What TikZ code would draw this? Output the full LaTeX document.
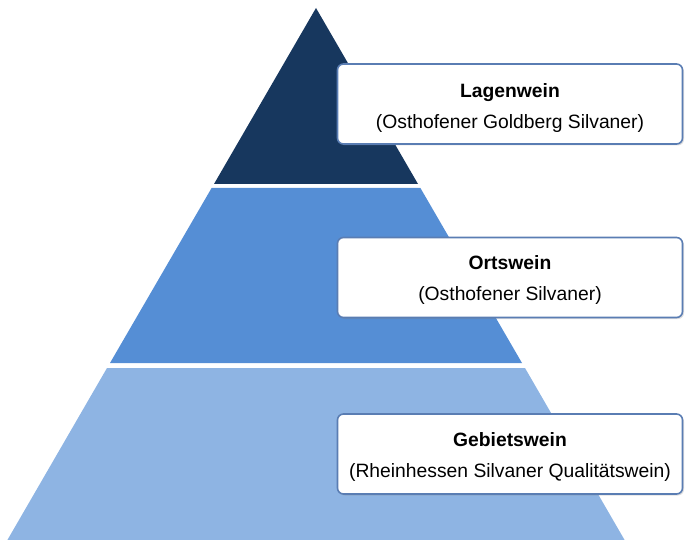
\documentclass[tikz,border=0pt]{standalone}
\usepackage{fontspec}
\setmainfont{Liberation Sans}
\usetikzlibrary{positioning,shadows}
\definecolor{tiertop}{HTML}{17375E}
\definecolor{tiermid}{HTML}{558ED5}
\definecolor{tierlow}{HTML}{8EB4E3}
\definecolor{boxline}{HTML}{5A7DB3}

\begin{document}
\begin{tikzpicture}[x=1pt, y=-1pt,
				 tier/.style={draw=none},
				 levelbox/.style={draw=boxline, line width=1.6pt, fill=white, rounded corners=6pt,
					minimum width=345pt, minimum height=80pt, inner sep=0pt,
					drop shadow={opacity=0.25, shadow xshift=1.5pt, shadow yshift=-1.5pt}},
				 leveltext/.style={align=center, inner sep=0pt, font=\fontsize{19.3}{31}\selectfont}]

		  		\useasboundingbox (0,0) rectangle (685,540);

		  		% pyramid tiers
		  		\fill[tier, tiertop] (316,8) -- (418,184) -- (214,184) -- cycle;
		  		\fill[tier, tiermid] (211.6,188) -- (420.4,188) -- (522,363) -- (110,363) -- cycle;
		  		\fill[tier, tierlow] (107,368) -- (525,368) -- (624.6,540) -- (7.4,540) -- cycle;

		  		% label boxes
		  		\node[levelbox] (lage) at (510,104) {};
		  		\node[levelbox] (ort) at (510,277.5) {};
		  		\node[levelbox] (gebiet) at (510,454) {};

		  		\node[leveltext] (lagetext) at ([yshift=-4pt]lage.center) {\textbf{Lagenwein}\\(Osthofener Goldberg Silvaner)};
		  		\node[leveltext] (orttext) at ([yshift=-3pt]ort.center) {\textbf{Ortswein}\\(Osthofener Silvaner)};
		  		\node[leveltext] (gebiettext) at ([yshift=-3pt]gebiet.center) {\textbf{Gebietswein}\\(Rheinhessen Silvaner Qualitätswein)};

		  	\end{tikzpicture}
\end{document}
